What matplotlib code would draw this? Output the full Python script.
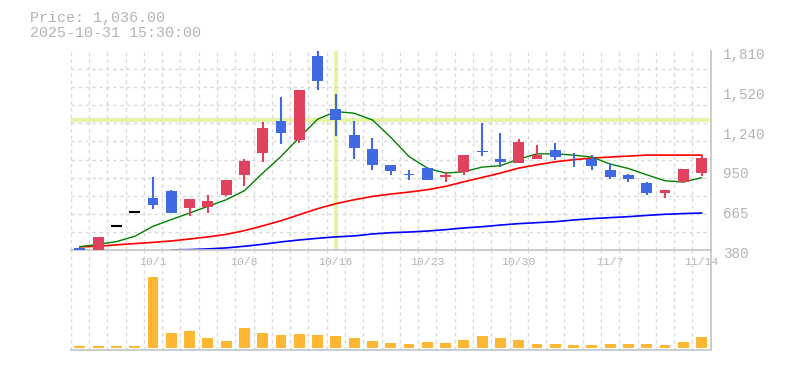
# Stock chart: candles + moving averages + volume

import numpy as np
import matplotlib.pyplot as plt
from matplotlib.transforms import offset_copy

dates = ["9/25", "9/26", "9/29", "9/30", "10/1", "10/2", "10/3", "10/6", "10/7", "10/8",
         "10/9", "10/10", "10/14", "10/15", "10/16", "10/17", "10/20", "10/21", "10/22", "10/23",
         "10/24", "10/27", "10/28", "10/29", "10/30", "10/31", "11/4", "11/5", "11/6", "11/7",
         "11/10", "11/11", "11/12", "11/13", "11/14"]

opens = [395, 385, 555, 655, 757, 807, 680, 693, 778, 921,
         1074, 1307, 1167, 1772, 1393, 1207, 1107, 993, 924, 971,
         902, 938, 1093, 1036, 1002, 1037, 1100, 1037, 1036, 957,
         921, 862, 788, 866, 931]
highs = [395, 477, 555, 655, 907, 810, 750, 778, 885, 1036,
         1302, 1479, 1529, 1815, 1500, 1307, 1186, 993, 957, 978,
         938, 1064, 1295, 1222, 1179, 1136, 1150, 1076, 1062, 1002,
         926, 869, 814, 966, 1064]
lows = [385, 385, 555, 655, 673, 645, 623, 645, 770, 838,
        1016, 1145, 1150, 1529, 1202, 1036, 952, 916, 881, 881,
        866, 923, 1057, 978, 1002, 1048, 1024, 978, 952, 888,
        866, 773, 757, 866, 909]
closes = [385, 477, 555, 655, 702, 645, 750, 735, 885, 1021,
          1257, 1222, 1529, 1595, 1310, 1110, 993, 945, 922, 885,
          916, 1064, 1081, 1010, 1157, 1060, 1052, 1035, 981, 902,
          888, 788, 814, 966, 1043]

ma_short = [405, 423, 442, 480, 552, 600, 647, 695, 742, 807,
            933, 1052, 1188, 1319, 1374, 1362, 1314, 1190, 1052, 969,
            933, 943, 976, 986, 1033, 1071, 1071, 1062, 1048, 998,
            966, 921, 878, 869, 900]
ma_mid = [405, 409, 419, 428, 437, 447, 461, 476, 494, 521,
          555, 592, 635, 678, 714, 742, 766, 783, 797, 814,
          838, 871, 902, 933, 969, 993, 1014, 1029, 1041, 1048,
          1055, 1062, 1062, 1062, 1062]
ma_long = [np.nan, np.nan, np.nan, np.nan, np.nan, 383, 385, 390, 397, 409,
           423, 440, 454, 466, 476, 483, 497, 506, 511, 518,
           528, 540, 549, 561, 571, 578, 585, 597, 607, 614,
           621, 630, 638, 643, 647]

volumes = [17, 17, 17, 17, 707, 146, 166, 96, 66, 196,
           146, 126, 136, 126, 116, 96, 66, 46, 37, 56,
           46, 76, 116, 96, 76, 37, 37, 27, 27, 37,
           37, 37, 27, 56, 106]

price_ticks = [380, 666, 952, 1238, 1524, 1810]
price_labels = ["380", "665", "950", "1,240", "1,520", "1,810"]
date_ticks = ["10/1", "10/8", "10/16", "10/23", "10/30", "11/7", "11/14"]

title_lines = ["Price: 1,036.00", "2025-10-31 15:30:00"]
cross_index = 14
cross_price = 1311

UP = "#e0425e"
DOWN = "#4169e1"
TEXT = "#b4b4b4"
GRID = "#d9d9d9"
SPINE = "#c4c4c4"
MONO = "Liberation Mono"


#  ======================= Price panel ===========================
def price_visualized():
    ax = fig.add_axes([70.7 / 785, 1 - 250.3 / 370, 640 / 785, 199.6 / 370])
    x = np.arange(len(dates))

    for i in x:
        o, h, l, c = opens[i], highs[i], lows[i], closes[i]
        if c > o:
            col = UP
        elif c < o:
            col = DOWN
        else:
            col = "black"
        ax.vlines(i, l, h, color=col, linewidth=1.5, zorder=3)
        if c == o:
            ax.hlines(c, i - 0.3, i + 0.3, color=col, linewidth=1.5, zorder=3)
        else:
            ax.bar(i, abs(c - o), bottom=min(o, c), width=0.6, color=col, zorder=3)

    ax.plot(x, ma_mid, color="red", linewidth=1.2, zorder=2)
    ax.plot(x, ma_long, color="blue", linewidth=1.2, zorder=2)
    ax.plot(x, ma_short, color="green", linewidth=1.0, zorder=2)

    # crosshair (behind the candles)
    ax.axvline(cross_index, color="#e5f4a6", linewidth=3, zorder=1.5)
    ax.axhline(cross_price, color="#e5f4a6", linewidth=3, zorder=1)

    ax.set_xlim(-0.5, len(dates) - 0.5)
    ax.set_ylim(380, 1810)

    ax.set_xticks([dates.index(d) for d in date_ticks])
    ax.set_xticklabels(date_ticks, family=MONO, fontsize=8.2, color=TEXT)
    ax.set_xticks(np.arange(-0.5, len(dates), 1), minor=True)
    ax.set_yticks(np.linspace(380, 1810, 12), minor=True)
    ax.yaxis.tick_right()
    ax.set_yticks(price_ticks)
    ax.set_yticklabels(price_labels, family=MONO, fontsize=10.3, color=TEXT)
    ax.tick_params(which="both", length=0)
    ax.tick_params(axis="x", pad=4.5)
    ax.tick_params(axis="y", pad=9)
    for lab in ax.get_yticklabels():
        lab.set_transform(offset_copy(lab.get_transform(), fig=fig, x=0, y=-2.5, units="dots"))

    ax.grid(False, which="major")
    ax.grid(True, which="minor", color=GRID, linestyle=(0, (2.5, 2.5)), linewidth=1)

    for side in ["left", "top"]:
        ax.spines[side].set_visible(False)
    for side in ["right", "bottom"]:
        ax.spines[side].set_color(SPINE)
        ax.spines[side].set_linewidth(1.2)

    fig.text(30 / 785, 1 - 18.3 / 370, title_lines[0], family=MONO, fontsize=10.8,
             color=TEXT, va="center", ha="left")
    fig.text(30 / 785, 1 - 33.3 / 370, title_lines[1], family=MONO, fontsize=10.8,
             color=TEXT, va="center", ha="left")


#  ======================= Volume panel ===========================
def volume_visualized():
    ax = fig.add_axes([70.7 / 785, 1 - 350.3 / 370, 640 / 785, 100 / 370])
    ax.set_facecolor("none")
    x = np.arange(len(dates))

    ax.bar(x, volumes, width=0.6, color="#fdb733", zorder=3)

    ax.set_xlim(-0.5, len(dates) - 0.5)
    ax.set_ylim(-26, 974)
    ax.set_xticks([])
    ax.set_xticks(np.arange(-0.5, len(dates), 1), minor=True)
    ax.set_yticks([])
    ax.tick_params(which="both", length=0, labelbottom=False)
    ax.grid(True, which="minor", axis="x", color=GRID, linestyle=(0, (2.5, 2.5)), linewidth=1)

    for side in ["left", "top"]:
        ax.spines[side].set_visible(False)
    for side in ["right", "bottom"]:
        ax.spines[side].set_color(SPINE)
        ax.spines[side].set_linewidth(1.2)


if __name__ == '__main__':
    fig = plt.figure(figsize=(7.85, 3.70), dpi=100)

    price_visualized()
    volume_visualized()

    fig.savefig("out.png", dpi=100)
